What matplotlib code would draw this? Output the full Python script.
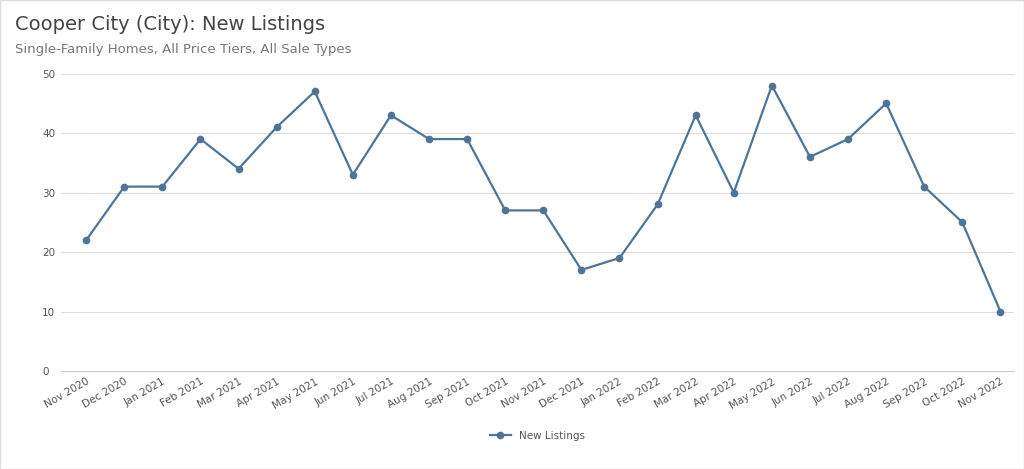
import matplotlib
matplotlib.use("Agg")
import matplotlib.pyplot as plt

months = ["Nov 2020","Dec 2020","Jan 2021","Feb 2021","Mar 2021","Apr 2021","May 2021","Jun 2021",
          "Jul 2021","Aug 2021","Sep 2021","Oct 2021","Nov 2021","Dec 2021","Jan 2022","Feb 2022",
          "Mar 2022","Apr 2022","May 2022","Jun 2022","Jul 2022","Aug 2022","Sep 2022","Oct 2022","Nov 2022"]
new_listings = [22,31,31,39,34,41,47,33,43,39,39,27,27,17,19,28,43,30,48,36,39,45,31,25,10]
yticks = [0,10,20,30,40,50]

color = "#4e7597"
fig = plt.figure(figsize=(10.24,4.69), dpi=100)
ax = fig.add_axes([0.060, 0.209, 0.93, 0.634])
x = range(len(months))
ax.plot(x, new_listings, color=color, lw=1.6, marker="o", ms=4.5, label="New Listings")
ax.set_xlim(-0.65, len(months)-0.65)
ax.set_ylim(0, 50)
ax.set_yticks(yticks)
ax.set_xticks(list(x))
ax.set_xticklabels(months, rotation=30, ha="right", rotation_mode="anchor", fontsize=7.5, color="#555555")
ax.tick_params(axis="y", labelsize=7.5, colors="#555555", length=0, pad=14)
ax.tick_params(axis="x", length=0, pad=4)
ax.grid(axis="y", color="#dddddd", lw=0.8)
for s in ["top","right","left"]:
    ax.spines[s].set_visible(False)
ax.spines["bottom"].set_color("#cccccc")
for lbl in ax.get_yticklabels():
    lbl.set_ha("left")
fig.text(0.015, 0.935, "Cooper City (City): New Listings", fontsize=14, color="#444444")
fig.text(0.015, 0.888, "Single-Family Homes, All Price Tiers, All Sale Types", fontsize=9.5, color="#777777")
ax.legend(loc="upper center", bbox_to_anchor=(0.5, -0.17), frameon=False, fontsize=7.5, labelcolor="#555555")
fig.patches.append(plt.Rectangle((0,0),1,1, transform=fig.transFigure, fill=False, ec="#dddddd", lw=1))
fig.savefig("out.png")
